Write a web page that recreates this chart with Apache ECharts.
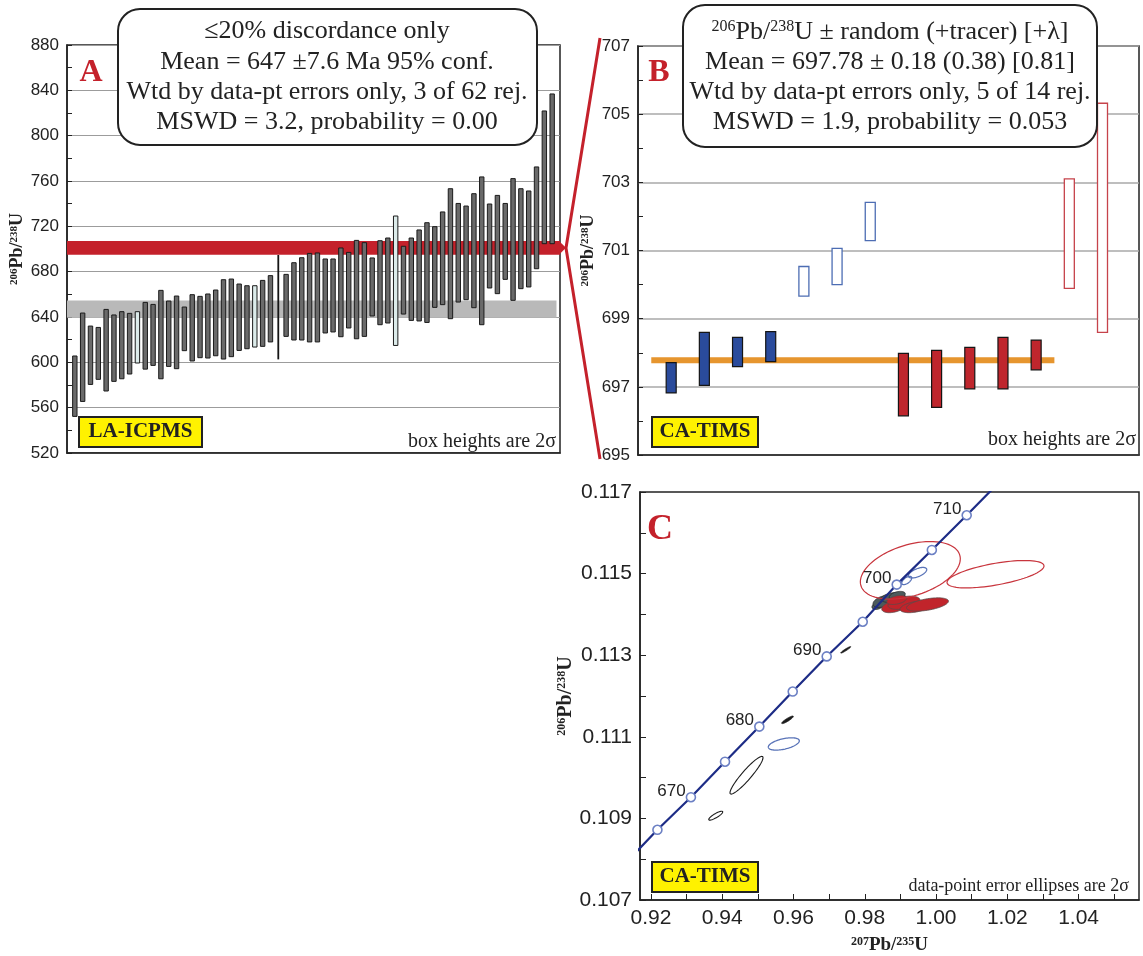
<!DOCTYPE html>
<html>
<head>
<meta charset="utf-8">
<title>206Pb/238U ages, LA-ICPMS vs CA-TIMS</title>
<script src="https://cdn.jsdelivr.net/npm/echarts@6/dist/echarts.min.js"></script>
<style>
    html, body { margin: 0; padding: 0; background: #fff; }
    #main { width: 1143px; height: 956px; }
</style>
</head>
<body>
<div id="main"></div>
<script>
    // ---- panel A : LA-ICPMS 206Pb/238U ages, box bottom / top (2 sigma), ranked ----
    const laLow = [552.3, 565.5, 580.5, 585, 574.7, 583.2, 585.5, 589.7, 599.4, 594,
        597.3, 585.5, 596.4, 594.4, 610.3, 601.2, 604.1, 603.8, 605.8, 602.9,
        605, 610.5, 612, 613.5, 614.1, 618, 602.6, 622.9, 619.7, 619.7,
        618, 618, 625.9, 626.8, 622.6, 630.3, 620.8, 622.9, 640.9, 633.2,
        634.7, 614.9, 642.6, 637, 636.5, 635.2, 648.5, 650.9, 638.5, 653.2,
        655.3, 648.2, 633.2, 665.6, 660.6, 673.2, 654.7, 665, 666.5, 682.6,
        704.7, 704.7];
    const laHigh = [605.6, 643.5, 632, 630.8, 646.7, 641.8, 644.7, 643.2, 644.7, 652.9,
        651.1, 663.5, 654.1, 658.5, 648.8, 659.7, 658.2, 660.3, 663.8, 672.9,
        673.5, 669.1, 667.6, 667.6, 672.3, 676.5, 694.7, 677.6, 687.9, 692.3,
        696.1, 696.5, 691.2, 691.2, 700.9, 697, 707.6, 705.6, 692.1, 707.3,
        709.7, 729.1, 702.4, 709.7, 716.8, 723.2, 719.7, 732.7, 753.2, 740.2,
        737.9, 748.8, 763.6, 739.7, 747.3, 740.2, 762.1, 753.2, 751.2, 772.4,
        821.8, 836.8];
    // 0 = used, 1 = rejected, 2 = hairline analysis
    const laKind = [0, 0, 0, 0, 0, 0, 0, 0, 1, 0, 0, 0, 0, 0, 0, 0, 0, 0, 0, 0,
        0, 0, 0, 1, 0, 0, 2, 0, 0, 0, 0, 0, 0, 0, 0, 0, 0, 0, 0, 0,
        0, 1, 0, 0, 0, 0, 0, 0, 0, 0, 0, 0, 0, 0, 0, 0, 0, 0, 0, 0, 0, 0];
    const laMean = 647, laErr = 7.6;
    const laTicks = [520, 880, 40];

    // ---- panel B : CA-TIMS 206Pb/238U ages ----
    const timsLow = [696.82, 697.04, 697.59, 697.74, 699.66, 700.0, 701.29,
        696.15, 696.40, 696.94, 696.94, 697.5, 699.89, 698.6];
    const timsHigh = [697.71, 698.6, 698.45, 698.62, 700.53, 701.06, 702.41,
        697.98, 698.07, 698.16, 698.45, 698.37, 703.1, 705.32];
    const timsGroup = ['blue', 'blue', 'blue', 'blue', 'blueRej', 'blueRej', 'blueRej',
        'red', 'red', 'red', 'red', 'red', 'redRej', 'redRej'];
    const timsMean = 697.78;
    const timsMeanSpan = [0.4, 12.55];
    const timsWindow = [695, 707];

    // ---- panel C : concordia (age, 207Pb/235U, 206Pb/238U) ----
    const concAge = [665, 670, 675, 680, 685, 690, 695, 700, 705, 710];
    const concX = [0.92180, 0.93120, 0.94077, 0.95040, 0.95977, 0.96931, 0.97942, 0.98896, 0.99882, 1.00860];
    const concY = [0.10872, 0.10952, 0.11039, 0.11125, 0.11211, 0.11297, 0.11382, 0.11473, 0.11558, 0.11643];
    const concEnds = [[0.91240, 0.10786], [1.01840, 0.11730]];

    // error ellipses: [207/235, 206/238, 2s x, 2s y, rho]
    const ellRedOpen = [[0.99278, 0.11508, 0.01403, 0.000706, 0.4], [1.01669, 0.114985, 0.01361, 0.000336, 0.6]];
    const ellBlueOpen = [[0.99480, 0.115022, 0.00258, 0.000129, 0.6], [0.99177, 0.114832, 0.0014, 0.000102, 0.6],
        [0.95727, 0.110825, 0.00435, 0.000151, 0.5]];
    const ellGrayFill = [[0.98371, 0.11422, 0.0017, 0.0001, 0.4], [0.98511, 0.114316, 0.0028, 0.000146, 0.4],
        [0.98792, 0.114414, 0.00337, 0.000122, 0.3], [0.98911, 0.114464, 0.00225, 0.0001, 0.4]];
    const ellRedFill = [[0.98826, 0.114195, 0.00351, 0.000153, 0.4], [0.99101, 0.114285, 0.00449, 0.000163, 0.4],
        [0.99410, 0.114183, 0.00421, 0.000141, 0.4], [0.99760, 0.114243, 0.00589, 0.000163, 0.5],
        [0.98896, 0.114353, 0.0028, 0.00011, 0.4]];
    const ellBlackOpen = [[0.94680, 0.110058, 0.00463, 0.000462, 0.93], [0.93816, 0.109066, 0.00196, 0.000109, 0.85]];
    const ellBlackFill = [[0.97465, 0.113131, 0.0014, 0.00008, 0.95], [0.95831, 0.111416, 0.00163, 0.0000925, 0.9]];

    const cTickX = [0.92, 0.93, 0.94, 0.95, 0.96, 0.97, 0.98, 0.99, 1.00, 1.01, 1.02, 1.03, 1.04, 1.05];
    const cLabelX = [0.92, 0.94, 0.96, 0.98, 1.00, 1.02, 1.04];
    const cTickY = [0.107, 0.108, 0.109, 0.110, 0.111, 0.112, 0.113, 0.114, 0.115, 0.116, 0.117];
    const cLabelY = [0.107, 0.109, 0.111, 0.113, 0.115, 0.117];

    const serif = '"Liberation Serif", "DejaVu Serif", serif';
    const sans = '"Liberation Sans", Arial, sans-serif';
    const red = '#c4212b';

    const chart = echarts.init(document.getElementById('main'));

    // floating boxes, panel A
    const laBoxes = {
        type: 'custom', xAxisIndex: 0, yAxisIndex: 0, z: 4,
        data: laLow.map((lo, i) => [i + 1, lo, laHigh[i], laKind[i]]),
        renderItem: function (params, api) {
            const top = api.coord([api.value(0), api.value(2)]);
            const bot = api.coord([api.value(0), api.value(1)]);
            const kind = api.value(3);
            const w = kind === 2 ? 1.8 : 4.4;
            return {
                type: 'rect',
                shape: {x: top[0] - w / 2, y: top[1], width: w, height: bot[1] - top[1]},
                style: {
                    fill: kind === 1 ? '#dcebea' : (kind === 2 ? '#151515' : '#6a6a6a'),
                    stroke: '#1b1b1b',
                    lineWidth: kind === 2 ? 0 : 1
                }
            };
        }
    };

    // horizontal bands, panel A: the CA-TIMS window (red) and the LA mean (grey)
    const laBands = {
        type: 'custom', xAxisIndex: 0, yAxisIndex: 0, z: 2,
        data: [[laMean - laErr, laMean + laErr, 62.55, 0], [timsWindow[0], timsWindow[1], 63, 1]],
        renderItem: function (params, api) {
            const lo = api.coord([0, api.value(0)]);
            const hi = api.coord([api.value(2), api.value(1)]);
            return {
                type: 'rect',
                shape: {x: lo[0], y: hi[1], width: hi[0] - lo[0], height: lo[1] - hi[1]},
                style: {fill: api.value(3) === 1 ? red : '#b9b9b9'}
            };
        }
    };

    const timsStyle = {
        blue: {fill: '#2a4b9c', stroke: '#151515', lineWidth: 1.2},
        blueRej: {fill: '#ffffff', stroke: '#4d6db3', lineWidth: 1.3},
        red: {fill: '#bf262d', stroke: '#151515', lineWidth: 1.2},
        redRej: {fill: '#ffffff', stroke: '#c6434b', lineWidth: 1.3}
    };
    const groupNames = Object.keys(timsStyle);

    const timsBoxes = {
        type: 'custom', xAxisIndex: 1, yAxisIndex: 1, z: 4,
        data: timsLow.map((lo, i) => [i + 1, lo, timsHigh[i], groupNames.indexOf(timsGroup[i])]),
        renderItem: function (params, api) {
            const top = api.coord([api.value(0), api.value(2)]);
            const bot = api.coord([api.value(0), api.value(1)]);
            const w = 10;
            return {
                type: 'rect',
                shape: {x: top[0] - w / 2, y: top[1], width: w, height: bot[1] - top[1]},
                style: Object.assign({}, timsStyle[groupNames[api.value(3)]])
            };
        }
    };

    function ellipses(data, style, z) {
        return {
            type: 'custom', xAxisIndex: 2, yAxisIndex: 2, z: z, clip: true,
            data: data,
            renderItem: function (params, api) {
                const cx = api.value(0), cy = api.value(1), sx = api.value(2), sy = api.value(3), r = api.value(4);
                const q = Math.sqrt(1 - r * r);
                const pts = [];
                for (let k = 0; k < 80; k++) {
                    const t = k / 80 * Math.PI * 2;
                    pts.push(api.coord([cx + sx * Math.cos(t), cy + sy * (r * Math.cos(t) + q * Math.sin(t))]));
                }
                return {type: 'polygon', shape: {points: pts}, style: Object.assign({}, style)};
            }
        };
    }

    const concLine = [concEnds[0]].concat(concX.map((x, i) => [x, concY[i]]), [concEnds[1]]);

    // isotope ratio written with raised mass numbers
    const ratio = (a, el, b, el2) => '{sup|' + a + '}' + el + '/{sup|' + b + '}' + el2;
    const yLabelStyle = {fontFamily: sans, fontSize: 17, color: '#222', margin: 8};
    const nameStyle = (size) => ({
        fontFamily: serif, fontWeight: 'bold', fontSize: size, color: '#222',
        rich: {sup: {fontFamily: serif, fontWeight: 'bold', fontSize: Math.round(size * 0.62), verticalAlign: 'top', color: '#222'}}
    });
    const boxRich = {sup: {fontFamily: serif, fontSize: 16, verticalAlign: 'top', fill: '#222'}};

    const option = {
        animation: false,
        backgroundColor: '#fff',
        grid: [
            {left: 67, top: 45, width: 493, height: 408, show: true, borderColor: '#222', borderWidth: 1.5},
            {left: 638, top: 46, width: 501, height: 409, show: true, borderColor: '#222', borderWidth: 1.5},
            {left: 640, top: 492, width: 499, height: 411, show: true, borderColor: '#222', borderWidth: 1.5}
        ],
        xAxis: [
            {
                gridIndex: 0, type: 'value', min: 0, max: 63,
                axisLine: {lineStyle: {color: '#222', width: 1.5}},
                axisTick: {show: false}, axisLabel: {show: false}, splitLine: {show: false}
            },
            {
                gridIndex: 1, type: 'value', min: 0, max: 15.1,
                axisLine: {lineStyle: {color: '#222', width: 1.5}},
                axisTick: {show: false}, axisLabel: {show: false}, splitLine: {show: false}
            },
            {
                gridIndex: 2, type: 'value', min: 0.91691, max: 1.05696,
                name: ratio(207, 'Pb', 235, 'U'), nameLocation: 'middle', nameGap: 36, nameTextStyle: nameStyle(19),
                axisLine: {lineStyle: {color: '#222', width: 1.5}},
                axisTick: {inside: true, length: 6, customValues: cTickX, lineStyle: {color: '#222'}},
                axisLabel: {
                    customValues: cLabelX, fontFamily: sans, fontSize: 21, color: '#222', margin: 8,
                    formatter: v => v.toFixed(2)
                },
                splitLine: {show: false}
            }
        ],
        yAxis: [
            {
                gridIndex: 0, type: 'value', min: laTicks[0], max: laTicks[1], interval: laTicks[2],
                name: ratio(206, 'Pb', 238, 'U'), nameLocation: 'middle', nameGap: 38, nameTextStyle: nameStyle(18),
                axisLine: {show: true, lineStyle: {color: '#222', width: 1.5}},
                axisTick: {inside: true, length: 5, lineStyle: {color: '#222'}},
                minorTick: {show: true, splitNumber: 2, length: 5, lineStyle: {color: '#222'}},
                axisLabel: yLabelStyle,
                splitLine: {lineStyle: {color: '#9c9c9c', width: 1.2}}
            },
            {
                gridIndex: 1, type: 'value', min: timsWindow[0], max: timsWindow[1], interval: 2,
                name: ratio(206, 'Pb', 238, 'U'), nameLocation: 'middle', nameGap: 38, nameTextStyle: nameStyle(18),
                axisLine: {show: true, lineStyle: {color: '#222', width: 1.5}},
                axisTick: {inside: true, length: 5, lineStyle: {color: '#222'}},
                minorTick: {show: true, splitNumber: 2, length: 5, lineStyle: {color: '#222'}},
                axisLabel: yLabelStyle,
                splitLine: {lineStyle: {color: '#a9a9a9', width: 1.5}}
            },
            {
                gridIndex: 2, type: 'value', min: 0.107, max: 0.117,
                name: ratio(206, 'Pb', 238, 'U'), nameLocation: 'middle', nameGap: 62, nameTextStyle: nameStyle(20),
                axisLine: {show: true, lineStyle: {color: '#222', width: 1.5}},
                axisTick: {inside: true, length: 6, customValues: cTickY, lineStyle: {color: '#222'}},
                axisLabel: {
                    customValues: cLabelY, fontFamily: sans, fontSize: 21, color: '#222', margin: 8,
                    formatter: v => v.toFixed(3)
                },
                splitLine: {show: false}
            }
        ],
        series: [
            laBands,
            laBoxes,
            {
                type: 'line', xAxisIndex: 1, yAxisIndex: 1, z: 2, symbol: 'none',
                data: timsMeanSpan.map(x => [x, timsMean]),
                lineStyle: {color: '#e6952e', width: 6}
            },
            timsBoxes,
            ellipses(ellGrayFill, {fill: '#4c5b5c', stroke: '#2b2b2b', lineWidth: 0.8}, 3),
            ellipses(ellRedFill, {fill: '#c1242b', stroke: '#5a4a4a', lineWidth: 0.8}, 4),
            ellipses(ellBlueOpen, {fill: 'none', stroke: '#5a74b8', lineWidth: 1.3}, 5),
            ellipses(ellRedOpen, {fill: 'none', stroke: '#c8353d', lineWidth: 1.2}, 5),
            ellipses(ellBlackOpen, {fill: 'none', stroke: '#1c1c1c', lineWidth: 1.1}, 5),
            ellipses(ellBlackFill, {fill: '#1c1c1c', stroke: '#1c1c1c', lineWidth: 0.8}, 5),
            {
                type: 'line', xAxisIndex: 2, yAxisIndex: 2, z: 6, symbol: 'none', clip: true,
                data: concLine,
                lineStyle: {color: '#1d2c86', width: 2.2}
            },
            {
                type: 'scatter', xAxisIndex: 2, yAxisIndex: 2, z: 7,
                symbol: 'circle', symbolSize: 9,
                itemStyle: {color: '#ffffff', borderColor: '#6c80c4', borderWidth: 1.6, opacity: 1},
                data: concAge.map((a, i) => ({
                    value: [concX[i], concY[i]],
                    label: {show: a % 10 === 0, formatter: String(a)}
                })),
                label: {
                    position: 'left', distance: 0, offset: [0, -6],
                    fontFamily: sans, fontSize: 17, color: '#222'
                }
            }
        ],
        graphic: [
            // connector from the red band of A to the full y range of B
            {
                type: 'polygon', z: 50,
                shape: {points: [[559, 240.9], [566, 247.8], [559, 254.7]]},
                style: {fill: red}
            },
            {
                type: 'polyline', z: 50,
                shape: {points: [[600, 38], [566, 248], [600, 459]]},
                style: {stroke: red, lineWidth: 3, fill: null}
            },
            // statistics boxes
            {
                type: 'rect', z: 100,
                shape: {x: 118, y: 9, width: 419, height: 136, r: 22},
                style: {fill: '#fff', stroke: '#222', lineWidth: 2}
            },
            ...['≤20% discordance only', 'Mean = 647 ±7.6 Ma 95% conf.',
                'Wtd by data-pt errors only, 3 of 62 rej.', 'MSWD = 3.2, probability = 0.00']
                .map((t, i) => ({
                    type: 'text', z: 101, x: 327, y: [31, 62, 92, 122][i],
                    style: {text: t, fontFamily: serif, fontSize: 26, fill: '#222', align: 'center', verticalAlign: 'middle'}
                })),
            {
                type: 'rect', z: 100,
                shape: {x: 683, y: 5, width: 414, height: 142, r: 22},
                style: {fill: '#fff', stroke: '#222', lineWidth: 2}
            },
            ...[ratio(206, 'Pb', 238, 'U') + ' ± random (+tracer) [+λ]', 'Mean = 697.78 ± 0.18 (0.38) [0.81]',
                'Wtd by data-pt errors only, 5 of 14 rej.', 'MSWD = 1.9, probability = 0.053']
                .map((t, i) => ({
                    type: 'text', z: 101, x: 890, y: [32, 62.5, 92, 122.5][i],
                    style: {
                        text: t, fontFamily: serif, fontSize: 26, fill: '#222', align: 'center', verticalAlign: 'middle',
                        rich: boxRich
                    }
                })),
            // panel letters
            ...[['A', 91, 73, 32], ['B', 659, 73, 32], ['C', 660, 530, 36]].map(d => ({
                type: 'text', z: 102, x: d[1], y: d[2],
                style: {text: d[0], fontFamily: serif, fontWeight: 'bold', fontSize: d[3], fill: red, align: 'center', verticalAlign: 'middle'}
            })),
            // method tags
            ...[['LA-ICPMS', 79, 417, 123], ['CA-TIMS', 652, 417, 106], ['CA-TIMS', 652, 862, 106]].map(d => ({
                type: 'group', z: 102, x: d[1], y: d[2],
                children: [
                    {type: 'rect', shape: {x: 0, y: 0, width: d[3], height: 30}, style: {fill: '#fff200', stroke: '#222', lineWidth: 2}},
                    {
                        type: 'text', x: d[3] / 2, y: 15,
                        style: {text: d[0], fontFamily: serif, fontWeight: 'bold', fontSize: 21, fill: '#222', align: 'center', verticalAlign: 'middle'}
                    }
                ]
            })),
            ...[['box heights are 2σ', 556, 442, 20], ['box heights are 2σ', 1136, 440, 20],
                ['data-point error ellipses are 2σ', 1129, 886, 18]].map(d => ({
                type: 'text', z: 102, x: d[1], y: d[2],
                style: {text: d[0], fontFamily: serif, fontSize: d[3], fill: '#222', align: 'right', verticalAlign: 'middle'}
            }))
        ]
    };

    chart.setOption(option);
</script>
</body>
</html>
